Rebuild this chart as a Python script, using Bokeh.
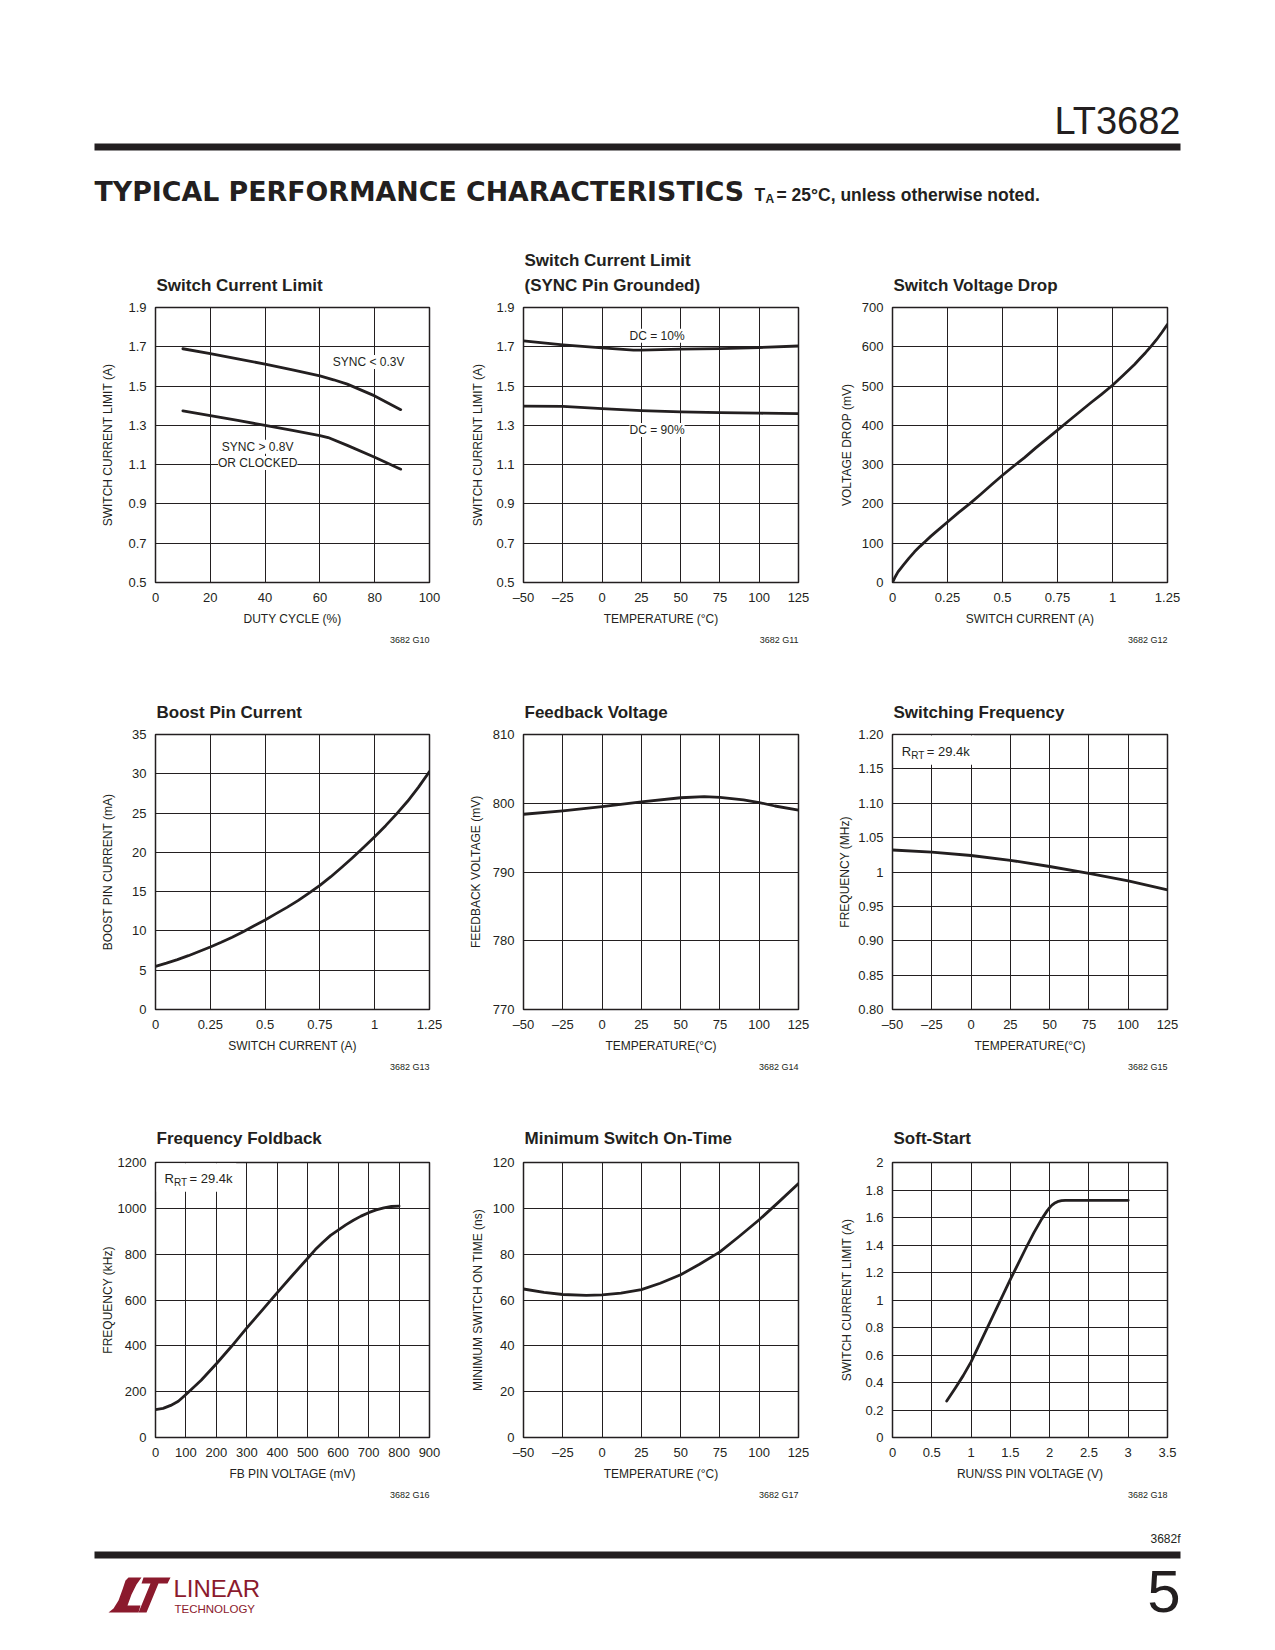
from bokeh.plotting import figure
from bokeh.models import FixedTicker, Label, Title, BoxAnnotation, Range1d
from bokeh.layouts import column, row
from bokeh.embed import file_html
from bokeh.resources import INLINE

INK = "#231f20"
RED = "#8b1a2d"
SANS = "Liberation Sans"

# ---------------- data ----------------
# G10 Switch Current Limit vs duty cycle
g10_duty_a = [10, 20, 30, 40, 50, 60, 65, 70, 80, 89.5]
g10_sync_low = [1.69, 1.665, 1.638, 1.612, 1.583, 1.552, 1.532, 1.51, 1.45, 1.38]
g10_duty_b = [10, 20, 30, 40, 50, 60, 63, 70, 80, 89.5]
g10_sync_high = [1.374, 1.349, 1.325, 1.30, 1.275, 1.248, 1.238, 1.198, 1.138, 1.077]

# G11 Switch Current Limit vs temperature
g11_temp = [-50, -25, 0, 20, 25, 50, 75, 100, 125]
g11_dc10 = [1.730, 1.710, 1.694, 1.683, 1.683, 1.688, 1.691, 1.696, 1.704]
g11_temp_b = [-50, -25, 0, 25, 50, 75, 100, 125]
g11_dc90 = [1.398, 1.397, 1.385, 1.375, 1.369, 1.365, 1.362, 1.360]

# G12 Switch voltage drop
g12_current = [0, 0.01, 0.025, 0.05, 0.075, 0.1, 0.125, 0.15, 0.175, 0.2, 0.25, 0.3, 0.35, 0.4, 0.45,
               0.5, 0.55, 0.6, 0.65, 0.7, 0.75, 0.8, 0.85, 0.9, 0.95, 1.0, 1.05, 1.1, 1.125, 1.15,
               1.175, 1.2, 1.225, 1.25]
g12_drop = [0, 12, 27, 45, 62, 78, 92, 105, 118, 130, 154, 178, 200, 224, 249,
            273, 296, 318, 342, 365, 388, 411, 434, 457, 479, 502, 528, 555, 570, 585,
            601, 618, 637, 657]

# G13 Boost pin current
g13_current = [0, 0.05, 0.1, 0.15, 0.25, 0.3, 0.35, 0.4, 0.45, 0.5, 0.55, 0.6, 0.65, 0.7, 0.75,
               0.8, 0.85, 0.9, 0.95, 1.0, 1.05, 1.1, 1.15, 1.2, 1.25]
g13_boost = [5.5, 5.9, 6.35, 6.85, 7.95, 8.55, 9.2, 9.9, 10.65, 11.4, 12.2, 13.0, 13.85, 14.8, 15.8,
             16.9, 18.1, 19.35, 20.65, 22.0, 23.4, 24.9, 26.5, 28.3, 30.3]

# G14 Feedback voltage
g14_temp = [-50, -25, 0, 25, 50, 65, 75, 90, 100, 110, 125]
g14_fb = [798.4, 798.9, 799.5, 800.2, 800.8, 800.95, 800.85, 800.5, 800.1, 799.6, 799.0]

# G15 Switching frequency
g15_temp = [-50, -25, 0, 25, 50, 75, 100, 125]
g15_freq = [1.032, 1.029, 1.024, 1.017, 1.008, 0.998, 0.987, 0.974]

# G16 Frequency foldback
g16_fb = [0, 25, 50, 75, 100, 150, 200, 250, 300, 350, 400, 450, 500, 525, 550, 575, 600, 625,
          650, 675, 700, 725, 750, 775, 800]
g16_freq = [122, 127, 140, 158, 188, 250, 322, 398, 478, 555, 632, 708, 782, 820, 852, 882, 905, 928,
            948, 966, 981, 993, 1002, 1008, 1010]

# G17 Minimum switch on-time
g17_temp = [-50, -37, -25, -10, 0, 12, 25, 37, 50, 62, 75, 87, 100, 112, 125]
g17_ton = [64.8, 63.3, 62.4, 62.0, 62.2, 63.0, 64.5, 67.3, 71.0, 75.6, 81.0, 87.6, 95.0, 102.5, 110.8]

# G18 Soft-start
g18_v = [0.69, 0.8, 0.9, 1.0, 1.1, 1.2, 1.3, 1.4, 1.5, 1.6, 1.7, 1.8, 1.9, 1.97, 2.0, 2.03, 2.06,
         2.1, 2.15, 2.2, 3.0]
g18_ilim = [0.265, 0.36, 0.45, 0.55, 0.67, 0.79, 0.91, 1.03, 1.15, 1.265, 1.38, 1.49, 1.59, 1.65,
            1.672, 1.69, 1.703, 1.715, 1.722, 1.725, 1.725]

# ticks
temp_ticks = [-50, -25, 0, 25, 50, 75, 100, 125]
temp_labels = ["\u201350", "\u201325", "0", "25", "50", "75", "100", "125"]
duty_ticks = [0, 20, 40, 60, 80, 100]
duty_labels = ["0", "20", "40", "60", "80", "100"]
ilim_ticks = [0.5, 0.7, 0.9, 1.1, 1.3, 1.5, 1.7, 1.9]
ilim_labels = ["0.5", "0.7", "0.9", "1.1", "1.3", "1.5", "1.7", "1.9"]
isw_ticks = [0, 0.25, 0.5, 0.75, 1.0, 1.25]
isw_labels = ["0", "0.25", "0.5", "0.75", "1", "1.25"]
drop_ticks = [0, 100, 200, 300, 400, 500, 600, 700]
drop_labels = ["0", "100", "200", "300", "400", "500", "600", "700"]
boost_ticks = [0, 5, 10, 15, 20, 25, 30, 35]
boost_labels = ["0", "5", "10", "15", "20", "25", "30", "35"]
fbv_ticks = [770, 780, 790, 800, 810]
fbv_labels = ["770", "780", "790", "800", "810"]
mhz_ticks = [0.80, 0.85, 0.90, 0.95, 1.0, 1.05, 1.10, 1.15, 1.20]
mhz_labels = ["0.80", "0.85", "0.90", "0.95", "1", "1.05", "1.10", "1.15", "1.20"]
fbpin_ticks = [0, 100, 200, 300, 400, 500, 600, 700, 800, 900]
fbpin_labels = ["0", "100", "200", "300", "400", "500", "600", "700", "800", "900"]
khz_ticks = [0, 200, 400, 600, 800, 1000, 1200]
khz_labels = ["0", "200", "400", "600", "800", "1000", "1200"]
ns_ticks = [0, 20, 40, 60, 80, 100, 120]
ns_labels = ["0", "20", "40", "60", "80", "100", "120"]
ss_ticks = [0, 0.5, 1.0, 1.5, 2.0, 2.5, 3.0, 3.5]
ss_labels = ["0", "0.5", "1", "1.5", "2", "2.5", "3", "3.5"]
ss_y_ticks = [0, 0.2, 0.4, 0.6, 0.8, 1.0, 1.2, 1.4, 1.6, 1.8, 2.0]
ss_y_labels = ["0", "0.2", "0.4", "0.6", "0.8", "1", "1.2", "1.4", "1.6", "1.8", "2"]

# ---------------- layout geometry (page pixels) ----------------
COL_W = [455, 369, 443]
COL_L = [155, 68, 68]
COL_R = [26, 26, 100]
ROW_H = [434, 427, 428]
ROW_T = [84, 77, 78]
TITLE_STANDOFF = [25, 25, 29]
FRAME_H = 275
PAGE_W = sum(COL_W)


def make_chart(ci, ri, xr, yr, xt, xl, yt, yl, xlabel, ylabel, ystand, title, code):
    p = figure(width=COL_W[ci], height=ROW_H[ri],
               x_range=Range1d(*xr), y_range=Range1d(*yr),
               min_border_left=COL_L[ci], min_border_right=COL_R[ci],
               min_border_top=ROW_T[ri], min_border_bottom=ROW_H[ri] - ROW_T[ri] - FRAME_H,
               output_backend="svg", toolbar_location=None, title=None)
    p.background_fill_color = "white"
    p.border_fill_color = "white"
    p.outline_line_color = INK
    p.outline_line_width = 1.5
    p.xaxis.ticker = FixedTicker(ticks=xt)
    p.yaxis.ticker = FixedTicker(ticks=yt)
    p.xaxis.major_label_overrides = dict(zip(xt, xl))
    p.yaxis.major_label_overrides = dict(zip(yt, yl))
    for ax in (p.xaxis[0], p.yaxis[0]):
        ax.axis_line_color = None
        ax.major_tick_line_color = None
        ax.minor_tick_line_color = None
        ax.major_label_text_font = SANS
        ax.major_label_text_font_size = "13px"
        ax.major_label_text_color = INK
        ax.axis_label_text_font = SANS
        ax.axis_label_text_font_size = "12px"
        ax.axis_label_text_font_style = "normal"
        ax.axis_label_text_color = INK
    is_temp = xt == temp_ticks
    p.xaxis.major_label_standoff = 1 if is_temp else 4
    p.yaxis.major_label_standoff = 3
    p.xaxis.axis_label = xlabel
    p.yaxis.axis_label = ylabel
    p.xaxis.axis_label_standoff = 4 if is_temp else 7
    p.yaxis.axis_label_standoff = ystand
    p.grid.grid_line_color = INK
    p.grid.grid_line_width = 1
    p.grid.grid_line_alpha = 1
    p.add_layout(Title(text=title, align="left", offset=1, standoff=TITLE_STANDOFF[ri],
                       text_font=SANS, text_font_size="17px", text_font_style="bold",
                       text_line_height=1.3, text_color=INK), "above")
    p.add_layout(Title(text=code, align="right", offset=0, standoff=8,
                       text_font=SANS, text_font_size="9px", text_font_style="normal",
                       text_color=INK), "below")
    return p


def curve(p, x, y):
    p.line(x, y, line_width=2.8, line_color=INK, line_cap="round", line_join="round")


def note(p, x, y, text):
    p.add_layout(Label(x=x, y=y, text=text, text_align="center", text_baseline="middle",
                       text_font=SANS, text_font_size="12px", text_color=INK,
                       background_fill_color="white", background_fill_alpha=1.0))


def rrt(p, x, y, box):
    l, r, b, t = box
    p.add_layout(BoxAnnotation(left=l, right=r, bottom=b, top=t, fill_color="white",
                               fill_alpha=1.0, line_color=None))
    p.add_layout(Label(x=x, y=y, text="R", text_align="left", text_baseline="middle",
                       text_font=SANS, text_font_size="13px", text_color=INK))
    p.add_layout(Label(x=x, y=y, x_offset=9.5, y_offset=-4, text="RT", text_align="left",
                       text_baseline="middle", text_font=SANS, text_font_size="10px",
                       text_color=INK))
    p.add_layout(Label(x=x, y=y, x_offset=25, text="= 29.4k", text_align="left",
                       text_baseline="middle", text_font=SANS, text_font_size="13px",
                       text_color=INK))


# ---- row 1 ----
c1 = make_chart(0, 0, (0, 100), (0.5, 1.9), duty_ticks, duty_labels, ilim_ticks, ilim_labels,
                "DUTY CYCLE (%)", "SWITCH CURRENT LIMIT (A)", 10, "Switch Current Limit", "3682 G10")
curve(c1, g10_duty_a, g10_sync_low)
curve(c1, g10_duty_b, g10_sync_high)
note(c1, 77.8, 1.623, "SYNC < 0.3V")
note(c1, 37.3, 1.191, "SYNC > 0.8V")
note(c1, 37.3, 1.109, "OR CLOCKED")

c2 = make_chart(1, 0, (-50, 125), (0.5, 1.9), temp_ticks, temp_labels, ilim_ticks, ilim_labels,
                "TEMPERATURE (\u00b0C)", "SWITCH CURRENT LIMIT (A)", 8,
                "Switch Current Limit\n(SYNC Pin Grounded)", "3682 G11")
curve(c2, g11_temp, g11_dc10)
curve(c2, g11_temp_b, g11_dc90)
note(c2, 35, 1.756, "DC = 10%")
note(c2, 35, 1.276, "DC = 90%")

c3 = make_chart(2, 0, (0, 1.25), (0, 700), isw_ticks, isw_labels, drop_ticks, drop_labels,
                "SWITCH CURRENT (A)", "VOLTAGE DROP (mV)", 5, "Switch Voltage Drop", "3682 G12")
curve(c3, g12_current, g12_drop)

# ---- row 2 ----
c4 = make_chart(0, 1, (0, 1.25), (0, 35), isw_ticks, isw_labels, boost_ticks, boost_labels,
                "SWITCH CURRENT (A)", "BOOST PIN CURRENT (mA)", 14, "Boost Pin Current", "3682 G13")
curve(c4, g13_current, g13_boost)

c5 = make_chart(1, 1, (-50, 125), (770, 810), temp_ticks, temp_labels, fbv_ticks, fbv_labels,
                "TEMPERATURE(\u00b0C)", "FEEDBACK VOLTAGE (mV)", 7, "Feedback Voltage", "3682 G14")
curve(c5, g14_temp, g14_fb)

c6 = make_chart(2, 1, (-50, 125), (0.8, 1.2), temp_ticks, temp_labels, mhz_ticks, mhz_labels,
                "TEMPERATURE(\u00b0C)", "FREQUENCY (MHz)", 3, "Switching Frequency", "3682 G15")
curve(c6, g15_temp, g15_freq)
rrt(c6, -44.1, 1.175, (-49.2, 2, 1.156, 1.1985))

# ---- row 3 ----
c7 = make_chart(0, 2, (0, 900), (0, 1200), fbpin_ticks, fbpin_labels, khz_ticks, khz_labels,
                "FB PIN VOLTAGE (mV)", "FREQUENCY (kHz)", 0, "Frequency Foldback", "3682 G16")
curve(c7, g16_fb, g16_freq)
rrt(c7, 29.5, 1129, (4, 265, 1072, 1197))

c8 = make_chart(1, 2, (-50, 125), (0, 120), temp_ticks, temp_labels, ns_ticks, ns_labels,
                "TEMPERATURE (\u00b0C)", "MINIMUM SWITCH ON TIME (ns)", 5, "Minimum Switch On-Time", "3682 G17")
curve(c8, g17_temp, g17_ton)

c9 = make_chart(2, 2, (0, 3.5), (0, 2), ss_ticks, ss_labels, ss_y_ticks, ss_y_labels,
                "RUN/SS PIN VOLTAGE (V)", "SWITCH CURRENT LIMIT (A)", 8, "Soft-Start", "3682 G18")
curve(c9, g18_v, g18_ilim)


# ---------------- header / footer (pixel canvases, y down) ----------------
def pixel_fig(w, h):
    p = figure(width=w, height=h, x_range=Range1d(0, w), y_range=Range1d(h, 0),
               min_border=0, output_backend="svg", toolbar_location=None, title=None,
               x_axis_type=None, y_axis_type=None)
    p.grid.visible = False
    p.outline_line_color = None
    p.background_fill_color = "white"
    p.border_fill_color = "white"
    return p


def txt(p, x, y, s, size, font=SANS, style="normal", align="left", color=INK):
    p.add_layout(Label(x=x, y=y, text=s, text_font=font, text_font_size=size,
                       text_font_style=style, text_align=align, text_baseline="middle",
                       text_color=color))


header = pixel_fig(PAGE_W, 223)
txt(header, 1180, 120, "LT3682", "38px", align="right")
header.quad(left=[94], right=[1180], top=[143], bottom=[150], fill_color=INK, line_color=None)
txt(header, 94, 190.5, "TYPICAL PERFORMANCE CHARACTERISTICS", "26.8px", font="DejaVu Sans", style="bold")
txt(header, 754, 194, "T", "17.5px", style="bold")
txt(header, 765, 198, "A", "12px", style="bold")
txt(header, 776, 194, "= 25\u00b0C, unless otherwise noted.", "17.5px", style="bold")

FOOT_Y = 1512
footer = pixel_fig(PAGE_W, 130)
txt(footer, 1180, 1538 - FOOT_Y, "3682f", "12px", align="right")
footer.quad(left=[94], right=[1180], top=[1551 - FOOT_Y], bottom=[1558 - FOOT_Y], fill_color=INK, line_color=None)
txt(footer, 1180, 1591 - FOOT_Y, "5", "60px", align="right")
# logo mark (decoration, page pixels)
L_shape = [(108, 1612), (113, 1608), (118, 1600), (122, 1589), (125, 1580), (128, 1577), (141, 1577),
           (136, 1584), (131, 1594), (127, 1605), (140, 1605), (138, 1612)]
T_shape = [(143, 1577), (170, 1577), (167, 1583), (158, 1583), (146, 1612), (138, 1612), (150, 1583), (141, 1583)]
footer.patches([[x for x, _ in L_shape], [x for x, _ in T_shape]],
               [[y - FOOT_Y for _, y in L_shape], [y - FOOT_Y for _, y in T_shape]],
               fill_color=RED, line_color=None)
txt(footer, 173, 1588 - FOOT_Y, "LINEAR", "24px", color=RED)
txt(footer, 174, 1608 - FOOT_Y, "TECHNOLOGY", "11.5px", color=RED)

layout = column(
    header,
    row(c1, c2, c3, spacing=0),
    row(c4, c5, c6, spacing=0),
    row(c7, c8, c9, spacing=0),
    footer,
    spacing=0,
)

open("out.html", "w").write(file_html(layout, INLINE))
